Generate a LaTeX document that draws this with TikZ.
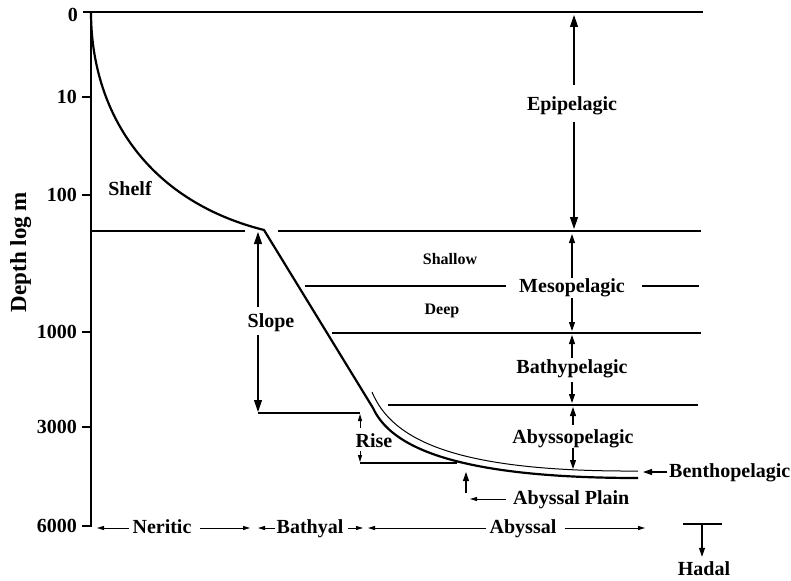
\documentclass[tikz,border=0pt]{standalone}
\usepackage{fontspec}
\setmainfont{Liberation Serif}
\usetikzlibrary{arrows.meta}

\begin{document}
\begin{tikzpicture}[x=1pt,y=-1pt,
	lbl/.style={font=\bfseries\fontsize{20}{24}\selectfont,inner sep=0pt,text height=14pt,text depth=4pt},
	sub/.style={font=\bfseries\fontsize{16}{19}\selectfont,inner sep=0pt,text height=11pt,text depth=3pt},
	tick/.style={font=\bfseries\fontsize{20}{24}\selectfont,inner sep=0pt,anchor=east},
	zone/.style={line width=1.1pt},
	bigarr/.style={line width=1.1pt,-{Triangle[length=12pt,width=8pt]}},
	midarr/.style={line width=1.1pt,-{Triangle[length=9pt,width=6pt]}},
	smallarr/.style={line width=0.9pt,-{Triangle[length=7pt,width=4pt]}}]
			\useasboundingbox (0,0) rectangle (791,580);
			\draw[line width=2pt] (83,12) -- (703,12);
			\draw[line width=2pt] (91,12) -- (91,526) -- (82,526);
			\draw[line width=2pt] (82,97) -- (91,97);
			\draw[line width=2pt] (82,195) -- (91,195);
			\draw[line width=2pt] (82,332) -- (91,332);
			\draw[line width=2pt] (82,427) -- (91,427);
			\node[tick] (t0) at (78,15) {0};
			\node[tick] (t10) at (77,97) {10};
			\node[tick] (t100) at (77,195) {100};
			\node[tick] (t1000) at (77,332) {1000};
			\node[tick] (t3000) at (77,427) {3000};
			\node[tick] (t6000) at (77,526) {6000};
			\node[lbl,font=\bfseries\fontsize{23}{27}\selectfont,rotate=90] (depth) at (21,252) {Depth log m};
			\draw[zone] (91,231) -- (245,231);
			\draw[zone] (278,231) -- (701,231);
			\draw[zone] (305,286) -- (506,286);
			\draw[zone] (642,286) -- (699,286);
			\draw[zone] (332,333) -- (701,333);
			\draw[zone] (388,405) -- (698,405);
			\draw[zone] (258,413) -- (360,413);
			\draw[zone] (360,463) -- (457,463);
			\draw[zone] (683,524) -- (722,524);
			\draw[line width=2.2pt] (91,12) .. controls (91,110) and (145,200) .. (264,230) -- (373,408) .. controls (390,445) and (450,478) .. (638,478);
			\draw[line width=1pt] (372,392) .. controls (392,440) and (455,472) .. (638,471);
			\node[lbl] (shelf) at (130,190) {Shelf};
			\node[lbl] (slope) at (271,322) {Slope};
			\node[lbl] (rise) at (374,442) {Rise};
			\node[sub] (shallow) at (450,260) {Shallow};
			\node[sub] (deep) at (442,310) {Deep};
			\node[lbl] (epi) at (572,106) {Epipelagic};
			\node[lbl] (meso) at (572,287) {Mesopelagic};
			\node[lbl] (bathy) at (572,368) {Bathypelagic};
			\node[lbl] (abysso) at (573,438) {Abyssopelagic};
			\node[lbl,anchor=west] (bentho) at (669,472) {Benthopelagic};
			\node[lbl,anchor=west] (plain) at (513,499) {Abyssal Plain};
			\node[lbl] (neritic) at (162,528) {Neritic};
			\node[lbl] (bathyal) at (310,528) {Bathyal};
			\node[lbl] (abyssal) at (523,528) {Abyssal};
			\node[lbl] (hadal) at (704,570) {Hadal};
			\coordinate (epitop) at (574,15);
			\coordinate (epibot) at (574,229);
			\coordinate (mesotop) at (572,234);
			\coordinate (mesobot) at (572,331);
			\coordinate (bathytop) at (572,335);
			\coordinate (bathybot) at (572,403);
			\coordinate (abyssotop) at (573,407);
			\coordinate (abyssobot) at (573,469);
			\coordinate (slopetop) at (258,232);
			\coordinate (slopebot) at (258,412);
			\coordinate (risetop) at (360,414);
			\coordinate (risebot) at (360,462);
			\coordinate (plainfoot) at (466,493);
			\coordinate (plainhead) at (466,472);
			\coordinate (hadtop) at (702,524);
			\draw[bigarr,shorten <=12pt] (epi.north -| epitop) -- (epitop);
			\draw[bigarr,shorten <=7pt] (epi.south -| epibot) -- (epibot);
			\draw[midarr] (meso.north -| mesotop) -- (mesotop);
			\draw[midarr,shorten <=2pt] (meso.south -| mesobot) -- (mesobot);
			\draw[midarr,shorten <=1pt] (bathy.north -| bathytop) -- (bathytop);
			\draw[midarr,shorten <=5pt] (bathy.south -| bathybot) -- (bathybot);
			\draw[midarr,shorten <=4pt] (abysso.north -| abyssotop) -- (abyssotop);
			\draw[midarr,shorten <=1pt] (abysso.south -| abyssobot) -- (abyssobot);
			\draw[bigarr,shorten <=6pt] (slope.north -| slopetop) -- (slopetop);
			\draw[bigarr,shorten <=4pt] (slope.south -| slopebot) -- (slopebot);
			\draw[smallarr,shorten <=5pt] (rise.north -| risetop) -- (risetop);
			\draw[smallarr] (rise.south -| risebot) -- (risebot);
			\draw[midarr,shorten <=2pt] (bentho.west) -- (643,472);
			\draw[smallarr,shorten <=7pt] (plain.west) -- (470,499);
			\draw[midarr] (plainfoot) -- (plainhead);
			\draw[smallarr,shorten <=3pt] (neritic.west) -- (97,528);
			\draw[smallarr,shorten <=8pt] (neritic.east) -- (250,528);
			\draw[smallarr,shorten <=1pt] (bathyal.west) -- (258,528);
			\draw[smallarr,shorten <=4pt] (bathyal.east) -- (363,528);
			\draw[smallarr,shorten <=3pt] (abyssal.west) -- (368,528);
			\draw[smallarr,shorten <=8pt] (abyssal.east) -- (645,528);
			\draw[midarr,shorten >=4pt] (hadtop) -- (hadal.north -| hadtop);
\end{tikzpicture}
\end{document}
